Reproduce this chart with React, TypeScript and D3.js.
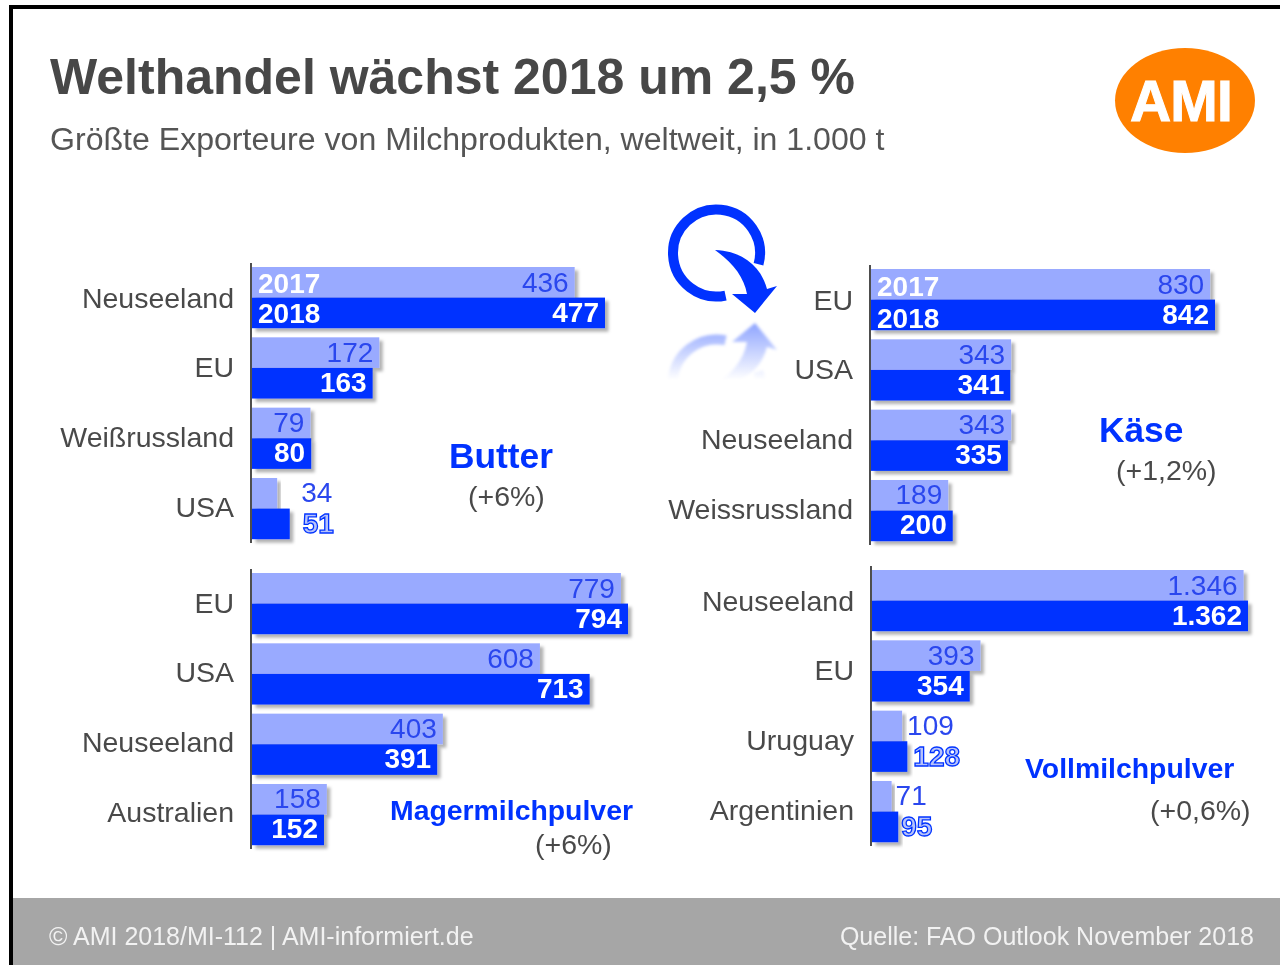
import React from "react";
import * as d3 from "d3";

const butterNames = ["Neuseeland", "EU", "Weißrussland", "USA"];
const butter2017 = [436, 172, 79, 34];
const butter2018 = [477, 163, 80, 51];
const kaeseNames = ["EU", "USA", "Neuseeland", "Weissrussland"];
const kaese2017 = [830, 343, 343, 189];
const kaese2018 = [842, 341, 335, 200];
const magerNames = ["EU", "USA", "Neuseeland", "Australien"];
const mager2017 = [779, 608, 403, 158];
const mager2018 = [794, 713, 391, 152];
const vollNames = ["Neuseeland", "EU", "Uruguay", "Argentinien"];
const voll2017 = [1346, 393, 109, 71];
const voll2018 = [1362, 354, 128, 95];
const years = ["2017", "2018"];

const fmt = (v: number) => (v >= 1000 ? d3.format(",")(v).replace(",", ".") : String(v));

const FONT = "'Liberation Sans', Arial, sans-serif";
const LIGHT = "#99aaff";
const DARK = "#0033ff";
const VALUE = "#2b47ee";
const GREY = "#4a4a4a";

type Panel = {
  names: string[]; a: number[]; b: number[];
  x0: number; x1: number; max: number; top: number; labelRight: number; labelDy: number;
  gaps: Record<string, number>; yearY: number[];
  title: string; titleX: number; titleY: number; titleSize: number;
  note: string; noteX: number; noteY: number;
};

const panels: Panel[] = [
  { names: butterNames, a: butter2017, b: butter2018, x0: 252, x1: 605, max: 477, top: 267, labelRight: 234, labelDy: 40.5,
    gaps: { "a3": 24, "b3": 13 }, yearY: [293, 323],
    title: "Butter", titleX: 449, titleY: 468, titleSize: 35.3, note: "(+6%)", noteX: 468, noteY: 506 },
  { names: kaeseNames, a: kaese2017, b: kaese2018, x0: 871, x1: 1215, max: 842, top: 269, labelRight: 853, labelDy: 40.5,
    gaps: {}, yearY: [296, 328],
    title: "Käse", titleX: 1099, titleY: 442, titleSize: 35.3, note: "(+1,2%)", noteX: 1116, noteY: 480 },
  { names: magerNames, a: mager2017, b: mager2018, x0: 252, x1: 628, max: 794, top: 573, labelRight: 234, labelDy: 39.5,
    gaps: {}, yearY: [],
    title: "Magermilchpulver", titleX: 390, titleY: 820, titleSize: 28.4, note: "(+6%)", noteX: 535, noteY: 854 },
  { names: vollNames, a: voll2017, b: voll2018, x0: 872, x1: 1248, max: 1362, top: 570, labelRight: 854, labelDy: 40.5,
    gaps: { "a2": 5, "b2": 6, "a3": 4, "b3": 3 }, yearY: [],
    title: "Vollmilchpulver", titleX: 1025, titleY: 778, titleSize: 28.4, note: "(+0,6%)", noteX: 1150, noteY: 820 },
];

function ChartPanel({ p }: { p: Panel }) {
  const x = d3.scaleLinear().domain([0, p.max]).range([p.x0, p.x1]);
  const y = d3.scaleBand<string>().domain(p.names).range([p.top, p.top + 4 * 70.33]);
  const yLabel = d3.scaleBand<string>().domain(p.names).range([p.top + p.labelDy, p.top + p.labelDy + 4 * 69.7]);
  const h = 30.6;
  const val = (v: number, key: string, i: number, yTop: number, isB: boolean) => {
    const gap = p.gaps[key + i];
    const base = yTop + (isB ? 24.6 - 0.25 * i : 25.4 - 0.4 * i);
    if (gap !== undefined) {
      return (
        <text x={x(v) + gap} y={base + (isB ? 1 : 0)} fontSize={28} fontFamily={FONT}
          fill={isB ? "#b7c3fb" : VALUE} stroke={isB ? DARK : "none"} strokeWidth={isB ? 1.3 : 0}
          fontWeight={isB ? 700 : 400}>{fmt(v)}</text>
      );
    }
    return (
      <text x={x(v) - 6} y={base} textAnchor="end" fontSize={28} fontFamily={FONT}
        fontWeight={isB ? 700 : 400} fill={isB ? "#fff" : VALUE}>{fmt(v)}</text>
    );
  };
  return (
    <g>
      {p.names.map((n, i) => {
        const yt = y(n)!;
        return (
          <g key={n}>
            <rect x={p.x0} y={yt} width={x(p.a[i]) - p.x0} height={h} fill={LIGHT} filter="url(#shadow)" />
            <rect x={p.x0} y={yt + h} width={x(p.b[i]) - p.x0} height={h} fill={DARK} filter="url(#shadow)" />
            {val(p.a[i], "a", i, yt, false)}
            {val(p.b[i], "b", i, yt + h, true)}
            <text x={p.labelRight} y={yLabel(n)!} textAnchor="end" fontSize={28.5} fontFamily={FONT} fill={GREY}>{n}</text>
          </g>
        );
      })}
      <line x1={p.x0 - 1} x2={p.x0 - 1} y1={p.top - 4} y2={p.top + 276} stroke="#222" strokeWidth={1.6} />
      {p.yearY.map((yy, k) => (
        <text key={years[k]} x={p.x0 + 6} y={yy} fontSize={28} fontWeight={700} fontFamily={FONT} fill="#fff">{years[k]}</text>
      ))}
      <text x={p.titleX} y={p.titleY} fontSize={p.titleSize} fontWeight={700} fontFamily={FONT} fill={DARK}>{p.title}</text>
      <text x={p.noteX} y={p.noteY} fontSize={28.5} fontFamily={FONT} fill={GREY}>{p.note}</text>
    </g>
  );
}

function Swirl() {
  const ring = d3.path();
  ring.arc(716.5, 253, 43.5, (15 * Math.PI) / 180, (78 * Math.PI) / 180, true);
  return (
    <g>
      <path d={ring.toString()} fill="none" stroke={DARK} strokeWidth={10} />
      <path d="M715 250 C742 251 761 266 767 289 L777 286 L755 313 L732 294 L747 294 C744 277 733 263 715 250 Z" fill={DARK} />
    </g>
  );
}

export default function App() {
  return (
    <svg width={1280} height={965} viewBox="0 0 1280 965"
      style={{ position: "absolute", left: 0, top: 0, display: "block", background: "#fff" }}>
      <defs>
        <filter id="shadow" x="-10%" y="-20%" width="125%" height="160%">
          <feDropShadow dx="3.5" dy="3.5" stdDeviation="1.5" floodColor="#000" floodOpacity="0.3" />
        </filter>
        <filter id="soft" filterUnits="userSpaceOnUse" x="0" y="0" width="1280" height="965">
          <feGaussianBlur stdDeviation="0.5" />
        </filter>
        <filter id="softer"><feGaussianBlur stdDeviation="1.4" /></filter>
        <linearGradient id="fade" gradientUnits="userSpaceOnUse" x1="0" x2="0" y1="322" y2="380">
          <stop offset="0" stopColor="#fff" stopOpacity="0.45" />
          <stop offset="1" stopColor="#fff" stopOpacity="0" />
        </linearGradient>
        <mask id="fadeMask" maskUnits="userSpaceOnUse" x="640" y="315" width="160" height="80">
          <rect x="640" y="315" width="160" height="80" fill="url(#fade)" />
        </mask>
      </defs>
      <g filter="url(#soft)">
        <rect x={0} y={0} width={1280} height={965} fill="#fff" />
        <path d="M11 1000 V7 H1300" fill="none" stroke="#000" strokeWidth={4} />
        <rect x={13} y={898} width={1267} height={67} fill="#a6a6a6" />
        <text x={50} y={94} fontSize={50} fontWeight={700} fontFamily={FONT} fill="#464646">Welthandel wächst 2018 um 2,5 %</text>
        <text x={50} y={150} fontSize={32.1} fontFamily={FONT} fill="#555">Größte Exporteure von Milchprodukten, weltweit, in 1.000 t</text>
        <ellipse cx={1185} cy={100.5} rx={70} ry={52.5} fill="#ff8000" />
        <text x={1130} y={121} fontSize={57} fontWeight={700} fontFamily={FONT} fill="#fff" stroke="#fff" strokeWidth={1} letterSpacing={-0.8}>AMI</text>
        <Swirl />
        <g mask="url(#fadeMask)">
          <g transform="translate(0 636) scale(1 -1)" filter="url(#softer)"><Swirl /></g>
        </g>
        {panels.map((p) => <ChartPanel key={p.title} p={p} />)}
        <text x={49} y={945} fontSize={25} fontFamily={FONT} fill="#f2f2f2">© AMI 2018/MI-112 | AMI-informiert.de</text>
        <text x={1254} y={945} textAnchor="end" fontSize={25} fontFamily={FONT} fill="#f2f2f2">Quelle: FAO Outlook November 2018</text>
      </g>
    </svg>
  );
}
